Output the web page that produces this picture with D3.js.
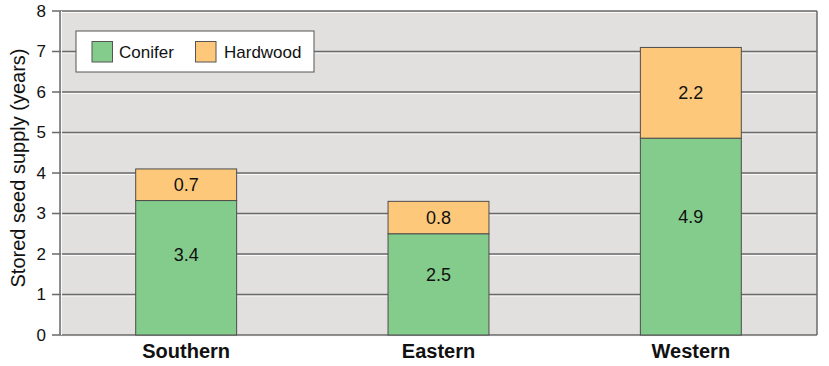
<!DOCTYPE html>
<html><head><meta charset="utf-8">
<script src="https://cdn.jsdelivr.net/npm/d3@7/dist/d3.min.js"></script>
<style>body{margin:0;background:#fff}svg{display:block}</style>
</head><body><svg id="c" width="829" height="366"></svg>
<script>
const categories = ["Southern", "Eastern", "Western"];
const conifer = [3.32, 2.5, 4.86];
const hardwood = [0.78, 0.8, 2.24];
const coniferLabels = ["3.4", "2.5", "4.9"];
const hardwoodLabels = ["0.7", "0.8", "2.2"];
const yTicks = [0, 1, 2, 3, 4, 5, 6, 7, 8];
const seriesNames = ["Conifer", "Hardwood"];

const svg = d3.select("#c");
const font = "Liberation Sans, Arial, sans-serif";
const L = 60, R = 817, T = 11, B = 335;
const x = d3.scaleBand().domain(categories).range([L, R]).paddingInner(0.6).paddingOuter(0.3);
const y = d3.scaleLinear().domain([0, 8]).range([B, T]);
const colors = {Conifer: "#84cc8c", Hardwood: "#fec87a"};

svg.append("rect").attr("x", L).attr("y", T).attr("width", R - L).attr("height", B - T).attr("fill", "#e1e0de");

// grid lines
const g = svg.append("g");
yTicks.forEach(t => {
  g.append("line").attr("x1", L).attr("x2", R).attr("y1", y(t) + 1.5).attr("y2", y(t) + 1.5).attr("stroke", "#fafafa").attr("stroke-width", 1);
  g.append("line").attr("x1", L - 8).attr("x2", R).attr("y1", y(t)).attr("y2", y(t)).attr("stroke", "#6a6a6a").attr("stroke-width", 1.5);
});
svg.append("line").attr("x1", L).attr("x2", L).attr("y1", T).attr("y2", B).attr("stroke", "#6a6a6a").attr("stroke-width", 1.5);
svg.append("line").attr("x1", L + 1.5).attr("x2", L + 1.5).attr("y1", T).attr("y2", B).attr("stroke", "#fafafa").attr("stroke-width", 1);
svg.append("line").attr("x1", R).attr("x2", R).attr("y1", T).attr("y2", B).attr("stroke", "#6a6a6a").attr("stroke-width", 1.5);

// y axis labels
const ax = d3.axisLeft(y).tickValues(yTicks).tickSize(0).tickPadding(14);
const axg = svg.append("g").attr("transform", `translate(${L},0)`).call(ax);
axg.select(".domain").remove();
axg.selectAll("text").attr("font-family", font).attr("font-size", 17).attr("fill", "#111");

svg.append("text").attr("transform", `translate(25,168) rotate(-90)`)
  .attr("text-anchor", "middle").attr("font-family", font).attr("font-size", 20).attr("fill", "#111")
  .text("Stored seed supply (years)");

// bars
const data = categories.map((c, i) => ({c, con: conifer[i], hw: hardwood[i], cl: coniferLabels[i], hl: hardwoodLabels[i]}));
const bars = svg.append("g");
data.forEach(d => {
  const bx = x(d.c), bw = x.bandwidth();
  bars.append("rect").attr("x", bx).attr("y", y(d.con)).attr("width", bw).attr("height", y(0) - y(d.con))
    .attr("fill", colors.Conifer).attr("stroke", "#4d4d4d").attr("stroke-width", 1);
  bars.append("rect").attr("x", bx).attr("y", y(d.con + d.hw)).attr("width", bw).attr("height", y(d.con) - y(d.con + d.hw))
    .attr("fill", colors.Hardwood).attr("stroke", "#4d4d4d").attr("stroke-width", 1);
  bars.append("text").attr("x", bx + bw / 2).attr("y", y(d.con * 0.6)).attr("dy", "0.35em")
    .attr("text-anchor", "middle").attr("font-family", font).attr("font-size", 18).attr("fill", "#111").text(d.cl);
  bars.append("text").attr("x", bx + bw / 2).attr("y", y(d.con + d.hw / 2)).attr("dy", "0.35em")
    .attr("text-anchor", "middle").attr("font-family", font).attr("font-size", 18).attr("fill", "#111").text(d.hl);
});

// x labels
const xa = d3.axisBottom(x).tickSize(0).tickPadding(9);
const xg = svg.append("g").attr("transform", `translate(0,${B})`).call(xa);
xg.select(".domain").remove();
xg.selectAll("text").attr("font-family", font).attr("font-size", 20).attr("font-weight", "bold").attr("fill", "#111");

// legend
const lg = svg.append("g");
lg.append("rect").attr("x", 76).attr("y", 31).attr("width", 238).attr("height", 41).attr("fill", "#fff").attr("stroke", "#555").attr("stroke-width", 1);
const lx = [92, 195.5];
const tx = [119, 224];
seriesNames.forEach((s, i) => {
  lg.append("rect").attr("x", lx[i]).attr("y", 41.5).attr("width", 20.5).attr("height", 20.5).attr("fill", colors[s]).attr("stroke", "#555");
  lg.append("text").attr("x", tx[i]).attr("y", 52).attr("dy", "0.35em").attr("font-family", font).attr("font-size", 17).attr("fill", "#111").text(s);
});
</script></body></html>
